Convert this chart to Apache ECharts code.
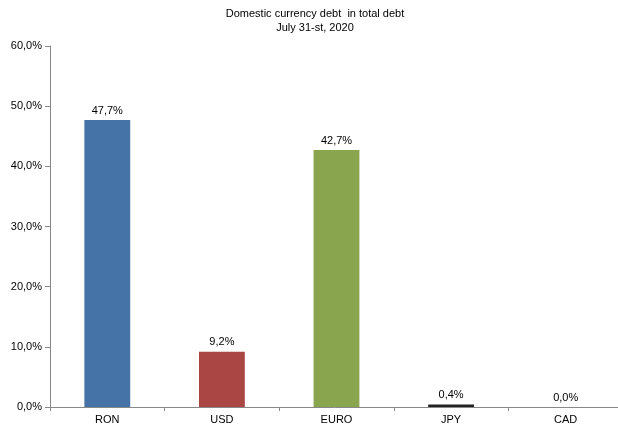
<!DOCTYPE html>
<html><head><meta charset="utf-8">
<script src="https://cdn.jsdelivr.net/npm/echarts@6/dist/echarts.min.js"></script>
<style>html,body{margin:0;padding:0;background:#fff}#c{width:618px;height:430px}</style>
</head><body><div id="c"></div>
<script>
const categories = ["RON", "USD", "EURO", "JPY", "CAD"];
const values = [47.7, 9.2, 42.7, 0.4, 0.0];
const colors = ["#4572A7", "#AA4643", "#89A54E", "#222222", "#1d3d1d"];
const fmt = v => v.toFixed(1).replace('.', ',') + '%';
const chart = echarts.init(document.getElementById('c'));
chart.setOption({
  animation: false,
  textStyle: { fontFamily: 'Liberation Sans, Arial, sans-serif' },
  title: {
    text: 'Domestic currency debt  in total debt\nJuly 31-st, 2020',
    left: 310, textAlign: 'center', top: 2,
    textStyle: { fontSize: 11, fontWeight: 'normal', color: '#000', lineHeight: 14, fontFamily: 'Liberation Sans, Arial, sans-serif' }
  },
  grid: { left: 50, width: 573, top: 46, height: 361, containLabel: false, outerBoundsMode: 'none' },
  xAxis: {
    type: 'category', data: categories,
    axisLine: { lineStyle: { color: '#888', width: 1 } },
    axisTick: { show: true, alignWithLabel: false, lineStyle: { color: '#888' }, length: 4 },
    axisLabel: { color: '#000', fontSize: 11, margin: 7 }
  },
  yAxis: {
    type: 'value', min: 0, max: 60, interval: 10,
    axisLine: { show: true, lineStyle: { color: '#888' } },
    axisTick: { show: true, length: 5, lineStyle: { color: '#888' } },
    splitLine: { show: false },
    axisLabel: { color: '#000', fontSize: 11, margin: 8, formatter: v => fmt(v) }
  },
  series: [{
    type: 'bar', barWidth: '40%',
    data: values.map((v, i) => ({ value: v, itemStyle: { color: colors[i] } })),
    label: { show: true, position: 'top', distance: 4, color: '#000', fontSize: 11, formatter: p => fmt(p.value) }
  }]
});
</script></body></html>
